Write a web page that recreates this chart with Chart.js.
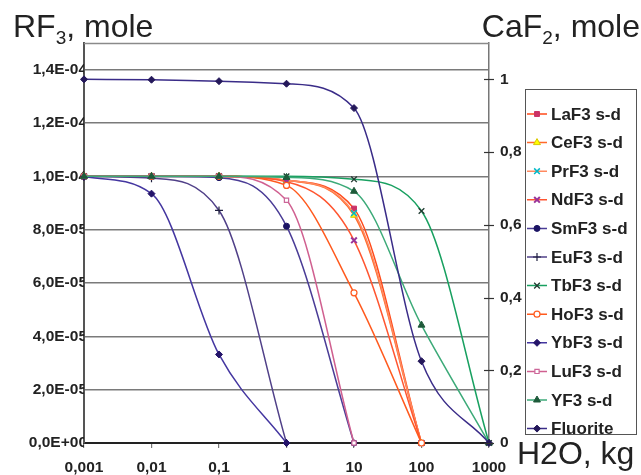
<!DOCTYPE html>
<html><head><meta charset="utf-8">
<script src="https://cdn.jsdelivr.net/npm/chart.js@4/dist/chart.umd.min.js"></script>
<style>html,body{margin:0;padding:0;background:#fff;}#wrap{width:641px;height:475px;position:relative;}</style>
</head><body><div id="wrap"><canvas id="c"></canvas></div>
<script>
// ---- data ----
const waterKg = [0.001, 0.01, 0.1, 1, 10, 100, 1000];
const xTickLabels = ['0,001', '0,01', '0,1', '1', '10', '100', '1000'];
const leftTicks = [0, 2e-5, 4e-5, 6e-5, 8e-5, 1.0e-4, 1.2e-4, 1.4e-4];
const rightTicks = [0, 0.2, 0.4, 0.6, 0.8, 1];

const seriesNames = ['LaF3 s-d','CeF3 s-d','PrF3 s-d','NdF3 s-d','SmF3 s-d','EuF3 s-d','TbF3 s-d','HoF3 s-d','YbF3 s-d','LuF3 s-d','YF3 s-d','Fluorite'];

const laF3  = [1.0e-4, 1.0e-4, 1.0e-4, 9.85e-5, 8.79e-5, 0, null];
const ceF3  = [1.0e-4, 1.0e-4, 1.0e-4, 9.85e-5, 8.54e-5, 0, null];
const prF3  = [1.0e-4, 1.0e-4, 1.0e-4, 9.85e-5, 8.62e-5, 0, null];
const ndF3  = [1.0e-4, 1.0e-4, 1.0e-4, 9.80e-5, 7.60e-5, 0, null];
const smF3  = [1.0e-4, 1.0e-4, 9.95e-5, 8.13e-5, 0, null, null];
const euF3  = [1.0e-4, 9.93e-5, 8.72e-5, 0, null, null, null];
const tbF3  = [1.0e-4, 1.0e-4, 1.0e-4, 1.0e-4, 9.89e-5, 8.70e-5, 0];
const hoF3  = [1.0e-4, 1.0e-4, 1.0e-4, 9.66e-5, 5.63e-5, 0, null];
const ybF3  = [9.98e-5, 9.35e-5, 3.32e-5, 0, null, null, null];
const luF3  = [1.0e-4, 1.0e-4, 1.0e-4, 9.10e-5, 0, null, null];
const yF3   = [1.0e-4, 1.0e-4, 1.0e-4, 9.96e-5, 9.44e-5, 4.42e-5, 0];
const fluorite = [1.0, 0.999, 0.995, 0.988, 0.921, 0.225, 0];

const seriesValues = [laF3, ceF3, prF3, ndF3, smF3, euF3, tbF3, hoF3, ybF3, luF3, yF3, fluorite];

// ---- styles ----
const styles = [
  {line:'#FF4A1A', style:'rect',     fill:'#CC3366', stroke:'#CC3366', r:3.5, bw:1},
  {line:'#FF6A2A', style:'triangle', fill:'#FFFF00', stroke:'#D8C800', r:4,   bw:1},
  {line:'#FF8A60', style:'crossRot', fill:'#00B8C8', stroke:'#00B8C8', r:4,   bw:1.5},
  {line:'#FF5530', style:'crossRot', fill:'#993399', stroke:'#993399', r:4,   bw:2},
  {line:'#4A3C96', style:'circle',   fill:'#1B1464', stroke:'#1B1464', r:3,   bw:1},
  {line:'#504088', style:'cross',    fill:'#202040', stroke:'#202040', r:4,   bw:1.2},
  {line:'#18A060', style:'crossRot', fill:'#203A30', stroke:'#203A30', r:4,   bw:1.3},
  {line:'#FF5A1E', style:'circle',   fill:'#FFFFFF', stroke:'#FF5A1E', r:3,   bw:1.2},
  {line:'#4436A0', style:'rectRot',  fill:'#24146A', stroke:'#24146A', r:3.5, bw:1},
  {line:'#D06090', style:'rect',     fill:'#FFFFFF', stroke:'#CC6699', r:3,   bw:1.2},
  {line:'#3CAA78', style:'triangle', fill:'#1E5A3A', stroke:'#1E5A3A', r:4,   bw:1},
  {line:'#3A2C88', style:'rectRot',  fill:'#24185A', stroke:'#24185A', r:3.5, bw:1}
];

const datasets = seriesNames.map((name, i) => {
  const s = styles[i];
  const pts = [];
  waterKg.forEach((x, k) => { if (seriesValues[i][k] !== null) pts.push({x: x, y: seriesValues[i][k]}); });
  return {
    label: name,
    data: pts,
    yAxisID: name === 'Fluorite' ? 'y1' : 'y',
    borderColor: s.line,
    borderWidth: 1.5,
    backgroundColor: s.fill,
    pointBackgroundColor: s.fill,
    pointBorderColor: s.stroke,
    pointBorderWidth: s.bw,
    pointStyle: s.style,
    pointRadius: s.r,
    cubicInterpolationMode: 'monotone',
    fill: false,
    clip: 4,
    order: seriesNames.length - i
  };
});

const FONT = '"Liberation Sans", Arial, sans-serif';

function fmtLeft(v) {
  if (v === 0) return '0,0E+00';
  const e = Math.floor(Math.log10(v) + 1e-9);
  const m = v / Math.pow(10, e);
  const es = (e < 0 ? '-' : '+') + String(Math.abs(e)).padStart(2, '0');
  return m.toFixed(1).replace('.', ',') + 'E' + es;
}
function fmtRight(v) {
  if (Math.abs(v) < 1e-9) return '0';
  if (Math.abs(v - 1) < 1e-9) return '1';
  return v.toFixed(1).replace('.', ',');
}

const decor = {
  id: 'decor',
  beforeDatasetsDraw(chart) {
    const {ctx, chartArea: a} = chart;
    ctx.save();
    ctx.strokeStyle = '#8a8a8a';
    ctx.lineWidth = 1.5;
    ctx.beginPath();
    ctx.moveTo(a.left, a.top + 0.5);
    ctx.lineTo(a.right, a.top + 0.5);
    ctx.stroke();
    ctx.restore();
  },
  afterDraw(chart) {
    const {ctx, chartArea: a, scales} = chart;
    ctx.save();
    // right axis crossing ticks
    ctx.strokeStyle = '#333';
    ctx.lineWidth = 1.2;
    rightTicks.forEach(v => {
      const y = Math.round(scales.y1.getPixelForValue(v)) + 0.5;
      ctx.beginPath();
      ctx.moveTo(a.right - 5, y);
      ctx.lineTo(a.right + 5, y);
      ctx.stroke();
    });
    // titles
    ctx.fillStyle = '#222';
    ctx.textBaseline = 'alphabetic';
    ctx.textAlign = 'left';
    const big = '32px ' + FONT, sub = '19px ' + FONT;
    // RF3, mole
    let x = 13;
    ctx.font = big; ctx.fillText('RF', x, 37); x += ctx.measureText('RF').width;
    ctx.font = sub; ctx.fillText('3', x, 44); x += ctx.measureText('3').width;
    ctx.font = big; ctx.fillText(', mole', x, 37);
    // CaF2, mole (right aligned)
    ctx.font = big; const w1 = ctx.measureText('CaF').width, w3 = ctx.measureText(', mole').width;
    ctx.font = sub; const w2 = ctx.measureText('2').width;
    x = 640 - (w1 + w2 + w3);
    ctx.font = big; ctx.fillText('CaF', x, 37); x += w1;
    ctx.font = sub; ctx.fillText('2', x, 44); x += w2;
    ctx.font = big; ctx.fillText(', mole', x, 37);
    // H2O, kg
    ctx.font = big; ctx.fillText('H2O, kg', 517, 464);

    // legend
    const bx = 525.5, by = 89.5, bw = 111, bh = 345;
    ctx.fillStyle = '#fff';
    ctx.fillRect(bx, by, bw, bh);
    ctx.save();
    ctx.beginPath(); ctx.rect(bx, by, bw, bh); ctx.clip();
    chart.data.datasets.forEach((ds, i) => {
      const y = 114 + i * 28.6;
      ctx.strokeStyle = ds.borderColor; ctx.lineWidth = 1.5;
      ctx.beginPath(); ctx.moveTo(527, y); ctx.lineTo(547, y); ctx.stroke();
      ctx.fillStyle = ds.pointBackgroundColor; ctx.strokeStyle = ds.pointBorderColor;
      ctx.lineWidth = ds.pointBorderWidth;
      if (Chart.helpers && Chart.helpers.drawPoint) {
        Chart.helpers.drawPoint(ctx, {pointStyle: ds.pointStyle, radius: ds.pointRadius, borderWidth: ds.pointBorderWidth, rotation: 0}, 537, y);
      }
      ctx.fillStyle = '#222';
      ctx.font = 'bold 17px ' + FONT;
      ctx.textBaseline = 'middle';
      ctx.fillText(ds.label, 551, y + 1);
    });
    ctx.restore();
    ctx.strokeStyle = '#555'; ctx.lineWidth = 1;
    ctx.strokeRect(bx, by, bw, bh);
    ctx.restore();
  }
};

new Chart(document.getElementById('c'), {
  type: 'line',
  data: {datasets},
  options: {
    responsive: true,
    maintainAspectRatio: false,
    animation: false,
    events: [],
    layout: {padding: {top: 43, left: 0, right: 0, bottom: 0}},
    plugins: {legend: {display: false}, tooltip: {enabled: false}, title: {display: false}},
    scales: {
      x: {
        type: 'logarithmic', position: 'bottom', min: 0.001, max: 1000,
        afterBuildTicks: s => { s.ticks = waterKg.map(v => ({value: v})); },
        afterFit: s => { s.height = 32; },
        ticks: {
          autoSkip: false, maxRotation: 0, minRotation: 0, padding: 10,
          color: '#222', font: {family: FONT, size: 15.5, weight: 'bold'},
          callback: v => { const k = waterKg.findIndex(w => Math.abs(Math.log10(w) - Math.log10(v)) < 1e-6); return k >= 0 ? xTickLabels[k] : ''; }
        },
        grid: {drawOnChartArea: false, drawTicks: true, tickLength: 5, color: '#777', lineWidth: 1.2},
        border: {display: true, color: '#222', width: 2}
      },
      y: {
        type: 'linear', position: 'left', min: 0, max: 1.5e-4,
        afterBuildTicks: s => { s.ticks = leftTicks.map(v => ({value: v})); },
        afterFit: s => { s.width = 84; },
        ticks: {padding: -3, color: '#222', font: {family: FONT, size: 15.5, weight: 'bold'}, callback: v => fmtLeft(v)},
        grid: {drawTicks: false, color: '#7a7a7a', lineWidth: 1.5},
        border: {display: true, color: '#555', width: 2}
      },
      y1: {
        type: 'linear', position: 'right', min: 0, max: 1.1,
        afterBuildTicks: s => { s.ticks = rightTicks.map(v => ({value: v})); },
        afterFit: s => { s.width = 152; },
        ticks: {padding: 11, color: '#222', font: {family: FONT, size: 15.5, weight: 'bold'}, callback: v => fmtRight(v)},
        grid: {drawOnChartArea: false, drawTicks: false},
        border: {display: true, color: '#777', width: 1.5}
      }
    }
  },
  plugins: [decor]
});
</script></body></html>
